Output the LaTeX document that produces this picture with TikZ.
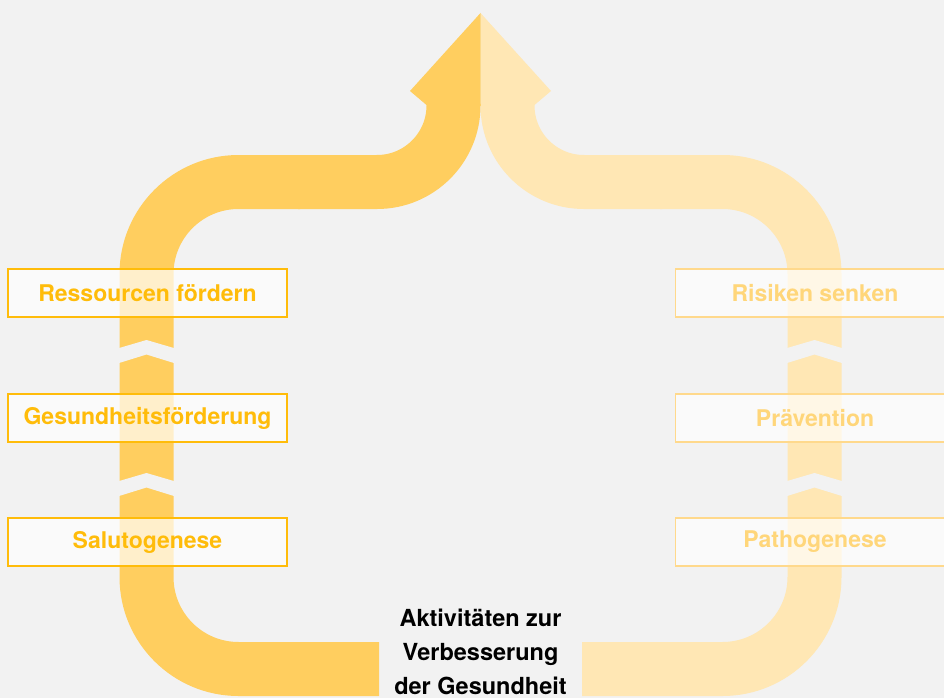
\documentclass[tikz,border=0pt]{standalone}
\usepackage{fontspec}
\setmainfont{TeX Gyre Heros}
\usepackage{tikz}

\definecolor{bg}{HTML}{F2F2F2}
\definecolor{banddark}{HTML}{FFCE5F}
\definecolor{bandpale}{HTML}{FFE7B4}
\definecolor{boxdark}{HTML}{FFBC0A}
\definecolor{boxpale}{HTML}{FFD98C}
\definecolor{textpale}{HTML}{FFD67A}

\tikzset{
  band/.style={line width=54pt},
  gapcut/.style={fill=bg},
  leftbox/.style={draw=boxdark, line width=1.4pt, fill=white, fill opacity=0.68,
    text opacity=1, text=boxdark, minimum width=279pt, minimum height=48pt,
    inner sep=0pt, font=\fontsize{23}{27}\selectfont\bfseries},
  rightbox/.style={leftbox, draw=boxpale, text=textpale},
}

\begin{document}
\begin{tikzpicture}[x=1pt, y=-1pt]
      \path[use as bounding box, fill=bg] (0,0) rectangle (944,698);
      \clip (0,0) rectangle (944,698);

      % pale band (Pathogenese side)
      \draw[band, bandpale, rounded corners=92pt] (582,669) -- (814.5,669) -- (814.5,182) -- (660,182);
      \draw[band, bandpale, rounded corners=76.5pt] (662,182) -- (507.5,182) -- (507.5,104);
      \fill[bandpale] (480.5,13) -- (551,91) -- (534.5,105) -- (480.5,106) -- cycle;

      % dark band (Salutogenese side)
      \draw[band, banddark, rounded corners=92pt] (379,669) -- (146.5,669) -- (146.5,182) -- (300,182);
      \draw[band, banddark, rounded corners=76.5pt] (298,182) -- (453.5,182) -- (453.5,104);
      \fill[banddark] (480.5,13) -- (410,91) -- (426.5,105) -- (480.5,106) -- cycle;

      % chevron gaps
      \foreach \cx in {146.5,814.5}
        \foreach \dy in {0,133}
          \fill[gapcut] (\cx-29,348.5+\dy) -- (\cx,340+\dy) -- (\cx+29,348.5+\dy)
            -- (\cx+29,363.5+\dy) -- (\cx,354.5+\dy) -- (\cx-29,363.5+\dy) -- cycle;

      % boxes
      \node[leftbox] (ressourcen) at (147.5,293) {Ressourcen fördern};
      \node[leftbox] (foerderung) at (147.5,418) {Gesundheitsförderung};
      \node[leftbox] (saluto) at (147.5,542) {Salutogenese};

      \node[rightbox] (risiken) at (815,293) {Risiken senken};
      \node[rightbox] (praevention) at (815,418) {Prävention};
      \node[rightbox] (patho) at (815,542) {Pathogenese};

      \node[align=center, inner sep=0pt, font=\fontsize{23.5}{34}\selectfont\bfseries] (ziel) at (480.5,652)
        {Aktivitäten zur\\Verbesserung\\der Gesundheit};
\end{tikzpicture}
\end{document}
